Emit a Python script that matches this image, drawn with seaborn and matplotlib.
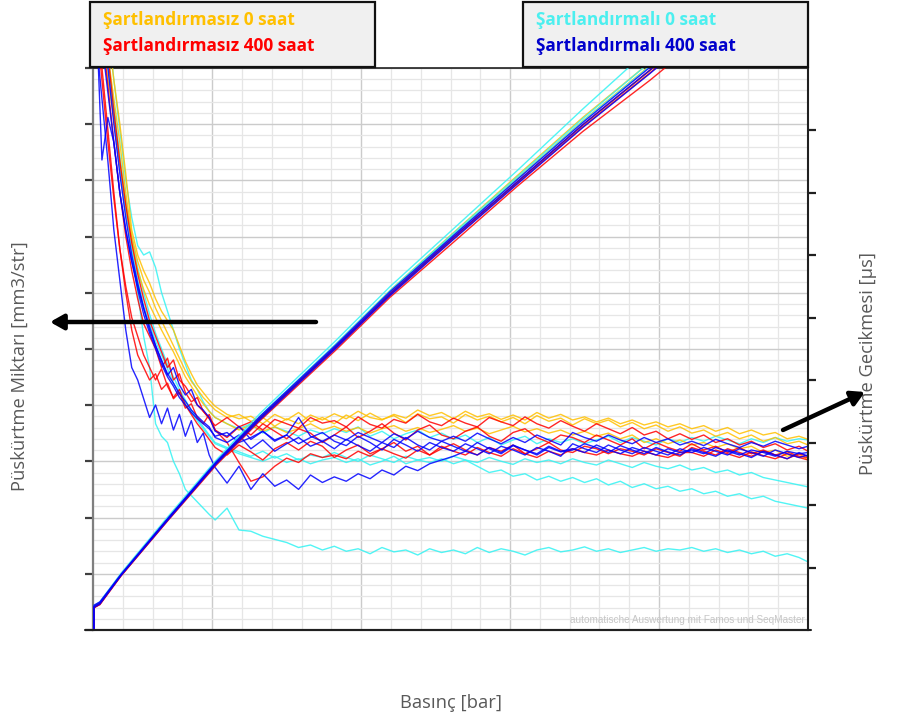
import matplotlib
matplotlib.use("Agg")
import matplotlib.pyplot as plt
import numpy as np
import pandas as pd
import seaborn as sns
from matplotlib.patches import Rectangle, FancyArrowPatch
from matplotlib.lines import Line2D
from matplotlib.ticker import MultipleLocator, FixedLocator

# ---------------- data ----------------
GROUPS = ["Şartlandırmasız 0 saat", "Şartlandırmasız 400 saat",
          "Şartlandırmalı 0 saat", "Şartlandırmalı 400 saat"]
COLORS = ["#FFC000", "#FF0000", "#33F3F3", "#0000FF"]
LEGEND_COLORS = ["#FFC000", "#FF0000", "#4CEFEF", "#0000CC"]

# pressure grid (bar) for the injection-quantity curves
p_rise = [103, 103, 123, 194, 352, 513, 660, 915, 1097, 1308, 1523, 1744, 1969, 2070]
# injection quantity [mm3/str]
q_y1 = [0, 4.0, 4.7, 9.9, 19.9, 29.8, 37.8, 50.6, 60.1, 70.2, 80.3, 90.6, 100.4, 104.9]
q_y2 = [0, 4.3, 4.9, 9.7, 19.6, 29.5, 37.5, 50.2, 59.7, 69.6, 79.6, 89.8, 99.5, 104.0]
q_y3 = [0, 4.1, 4.6, 9.8, 19.8, 29.7, 37.9, 50.8, 60.4, 70.6, 80.8, 91.2, 101.0, 105.6]
q_r1 = [0, 4.0, 4.5, 9.6, 19.5, 29.3, 37.2, 49.8, 59.2, 68.9, 78.9, 88.7, 97.8, 102.2]
q_r2 = [0, 4.1, 4.7, 9.7, 19.7, 29.6, 37.6, 50.2, 59.6, 69.5, 79.4, 89.5, 99.1, 103.6]
q_r3 = [0, 3.9, 4.6, 9.8, 19.8, 29.7, 37.7, 50.4, 59.9, 69.8, 79.7, 89.9, 99.6, 104.1]
q_c1 = [0, 4.3, 5.0, 10.1, 20.2, 30.2, 38.5, 51.5, 61.1, 71.3, 81.7, 92.7, 103.5, 108.5]
q_c2 = [0, 4.0, 4.8, 9.9, 19.9, 29.9, 38.0, 50.9, 60.4, 70.5, 80.6, 91.0, 101.0, 105.6]
q_c3 = [0, 4.2, 4.7, 9.8, 19.8, 29.8, 37.8, 50.6, 60.1, 70.2, 80.2, 90.5, 100.3, 104.8]
q_b1 = [0, 4.2, 4.8, 9.8, 19.8, 29.7, 37.7, 50.4, 59.8, 69.8, 79.7, 89.9, 99.6, 104.1]
q_b2 = [0, 4.4, 5.0, 9.9, 19.9, 29.9, 38.0, 50.7, 60.2, 70.1, 80.1, 90.3, 100.1, 104.6]
q_b3 = [0, 4.0, 4.6, 9.7, 19.6, 29.5, 37.4, 50.1, 59.5, 69.4, 79.3, 89.4, 99.0, 103.5]

# pressure grid (bar) for the injection-delay curves
p_fall = [110, 130, 150, 170, 190, 210, 230, 250, 270, 290,
          310, 330, 350, 370, 390, 410, 430, 450, 470, 490,
          510, 550, 590, 630, 670, 710, 750, 790, 830, 870,
          910, 950, 990, 1030, 1070, 1110, 1150, 1190, 1230, 1270,
          1310, 1350, 1390, 1430, 1470, 1510, 1550, 1590, 1630, 1670,
          1710, 1750, 1790, 1830, 1870, 1910, 1950, 1990, 2030, 2070,
          2110, 2150, 2190, 2230, 2270, 2310, 2350, 2390, 2430, 2470,
          2500]
# injection delay [µs]
d_y1 = [1150, 1050, 960, 880, 810, 730, 640, 600, 575, 555,
        530, 510, 495, 480, 455, 430, 410, 392, 380, 368,
        358, 345, 338, 342, 330, 345, 336, 348, 333, 340,
        330, 344, 335, 347, 337, 343, 332, 346, 338, 341,
        331, 345, 336, 342, 333, 340, 330, 343, 334, 339,
        328, 338, 330, 336, 325, 332, 322, 328, 318, 325,
        315, 320, 310, 316, 306, 312, 302, 308, 298, 302,
        296]
d_y2 = [1100, 1010, 920, 850, 780, 700, 630, 590, 560, 540,
        515, 495, 475, 455, 435, 415, 398, 385, 372, 362,
        352, 340, 345, 334, 340, 326, 338, 330, 344, 336,
        346, 338, 350, 340, 336, 345, 339, 352, 343, 348,
        338, 350, 341, 346, 337, 344, 336, 348, 339, 345,
        336, 341, 333, 339, 330, 336, 328, 333, 325, 330,
        322, 327, 318, 324, 314, 320, 312, 316, 306, 310,
        305]
d_y3 = [1050, 960, 880, 820, 750, 680, 620, 575, 545, 520,
        500, 480, 462, 445, 425, 405, 390, 375, 362, 350,
        340, 330, 320, 328, 318, 325, 316, 322, 330, 320,
        326, 318, 324, 315, 322, 327, 318, 324, 316, 321,
        327, 318, 323, 314, 320, 326, 317, 322, 315, 320,
        312, 318, 310, 315, 306, 312, 300, 306, 298, 304,
        296, 300, 292, 298, 290, 294, 284, 288, 278, 282,
        272]
d_r1 = [1000, 900, 800, 700, 610, 540, 480, 440, 420, 400,
        410, 385, 395, 370, 380, 355, 362, 340, 330, 345,
        320, 300, 268, 238, 245, 262, 275, 268, 282, 276,
        280, 274, 286, 278, 290, 282, 275, 288, 280, 294,
        286, 280, 292, 284, 278, 290, 282, 276, 286, 280,
        290, 284, 280, 288, 282, 278, 286, 280, 276, 284,
        284, 278, 288, 282, 276, 285, 279, 274, 282, 276,
        272]
d_r2 = [1050, 960, 870, 780, 700, 630, 575, 530, 490, 470,
        450, 420, 435, 400, 410, 380, 365, 372, 350, 340,
        320, 308, 325, 312, 330, 318, 306, 322, 315, 300,
        312, 325, 308, 318, 330, 315, 304, 320, 328, 312,
        306, 318, 325, 310, 302, 316, 322, 308, 300, 312,
        308, 300, 312, 304, 296, 306, 290, 300, 292, 286,
        298, 288, 294, 284, 292, 282, 288, 280, 285, 278,
        276]
d_r3 = [1100, 1010, 920, 830, 750, 680, 620, 570, 530, 495,
        470, 445, 420, 432, 400, 390, 375, 360, 350, 338,
        327, 340, 325, 333, 320, 337, 330, 323, 340, 331,
        335, 325, 341, 329, 323, 337, 331, 345, 333, 327,
        339, 331, 325, 340, 333, 327, 341, 330, 323, 335,
        326, 318, 330, 322, 314, 324, 312, 318, 306, 314,
        305, 312, 300, 306, 296, 302, 292, 298, 288, 294,
        286]
d_r4 = [980, 880, 780, 690, 610, 550, 500, 470, 440, 420,
        400, 418, 390, 372, 385, 360, 345, 330, 318, 305,
        292, 280, 296, 285, 272, 290, 300, 288, 302, 294,
        276, 288, 296, 282, 290, 300, 286, 294, 280, 290,
        298, 288, 280, 292, 286, 296, 282, 290, 300, 288,
        284, 294, 290, 282, 290, 286, 280, 290, 284, 278,
        292, 286, 280, 290, 284, 278, 286, 280, 274, 282,
        278]
d_c1 = [1150, 1060, 970, 880, 800, 720, 660, 615, 600, 605,
        580, 540, 510, 480, 450, 425, 400, 385, 365, 350,
        340, 330, 322, 330, 315, 325, 318, 310, 320, 314,
        322, 316, 325, 310, 318, 306, 314, 320, 308, 315,
        305, 312, 300, 308, 296, 304, 310, 298, 306, 300,
        306, 298, 304, 310, 300, 308, 302, 296, 306, 300,
        308, 302, 310, 304, 298, 306, 300, 308, 302, 306,
        304]
d_c2 = [1080, 1000, 920, 840, 760, 690, 630, 580, 540, 505,
        475, 450, 425, 405, 385, 368, 352, 338, 325, 312,
        300, 292, 285, 278, 286, 275, 282, 272, 280, 276,
        284, 276, 270, 280, 274, 268, 278, 272, 276, 270,
        278, 272, 268, 276, 270, 265, 274, 268, 272, 266,
        274, 268, 264, 272, 266, 260, 268, 262, 258, 264,
        256, 260, 252, 256, 248, 252, 244, 240, 236, 232,
        229]
d_c3 = [1060, 980, 900, 820, 740, 670, 610, 560, 520, 490,
        462, 440, 418, 395, 380, 362, 348, 335, 322, 310,
        298, 290, 282, 276, 270, 278, 268, 274, 266, 272,
        276, 268, 274, 264, 270, 278, 266, 272, 268, 274,
        266, 272, 262, 252, 256, 246, 250, 240, 246, 238,
        244, 236, 242, 232, 238, 228, 234, 226, 230, 222,
        226, 218, 222, 214, 218, 210, 214, 206, 202, 198,
        195]
d_c4 = [1100, 1010, 920, 830, 750, 680, 610, 540, 470, 420,
        330, 310, 300, 270, 250, 225, 215, 205, 195, 185,
        176, 195, 160, 158, 150, 145, 140, 132, 136, 128,
        134, 126, 130, 122, 132, 125, 128, 120, 130, 124,
        128, 122, 132, 124, 130, 126, 120, 128, 132, 125,
        128, 133, 126, 130, 124, 128, 132, 126, 130, 128,
        132, 126, 130, 124, 128, 122, 126, 118, 122, 116,
        109]
d_b1 = [1000, 752, 820, 780, 700, 640, 590, 550, 515, 480,
        455, 430, 408, 420, 392, 376, 385, 360, 352, 340,
        318, 310, 326, 305, 318, 302, 312, 298, 308, 316,
        302, 295, 310, 300, 288, 305, 296, 286, 300, 292,
        286, 298, 290, 282, 294, 288, 280, 292, 286, 278,
        298, 290, 284, 296, 288, 282, 292, 286, 280, 290,
        284, 292, 286, 280, 290, 284, 278, 288, 282, 276,
        280]
d_b2 = [950, 850, 750, 640, 560, 480, 420, 400, 370, 340,
        360, 330, 355, 320, 345, 310, 335, 300, 315, 280,
        260, 235, 262, 225, 250, 230, 240, 225, 248, 236,
        245, 238, 250, 242, 256, 248, 262, 255, 266, 272,
        278, 286, 280, 292, 284, 296, 288, 282, 294, 286,
        290, 284, 296, 288, 282, 292, 286, 280, 290, 284,
        288, 282, 292, 286, 280, 288, 284, 278, 286, 282,
        284]
d_b3 = [1080, 990, 900, 810, 730, 660, 600, 555, 515, 485,
        455, 432, 410, 395, 378, 366, 352, 342, 333, 325,
        308, 300, 312, 290, 304, 286, 298, 308, 294, 302,
        290, 305, 295, 286, 300, 292, 308, 296, 288, 302,
        294, 286, 300, 290, 282, 295, 288, 280, 292, 285,
        288, 298, 292, 284, 295, 288, 282, 292, 285, 280,
        290, 284, 278, 288, 282, 276, 286, 280, 274, 284,
        278]
d_b4 = [1020, 940, 860, 780, 700, 640, 590, 545, 505, 475,
        450, 425, 405, 390, 372, 360, 348, 338, 330, 322,
        310, 316, 300, 308, 318, 304, 312, 340, 310, 302,
        312, 304, 316, 308, 300, 314, 306, 318, 308, 302,
        310, 302, 315, 306, 298, 308, 300, 312, 304, 296,
        316, 308, 302, 312, 304, 298, 308, 300, 306, 296,
        302, 295, 305, 298, 292, 300, 294, 302, 296, 290,
        294]

# ---------------- tables ----------------
rise_series = [(GROUPS[0], "y1", q_y1), (GROUPS[0], "y2", q_y2), (GROUPS[0], "y3", q_y3),
               (GROUPS[2], "c1", q_c1), (GROUPS[2], "c2", q_c2), (GROUPS[2], "c3", q_c3),
               (GROUPS[1], "r1", q_r1), (GROUPS[1], "r2", q_r2), (GROUPS[1], "r3", q_r3),
               (GROUPS[3], "b1", q_b1), (GROUPS[3], "b2", q_b2), (GROUPS[3], "b3", q_b3)]
fall_series = [(GROUPS[2], "c1", d_c1), (GROUPS[2], "c2", d_c2), (GROUPS[2], "c3", d_c3),
               (GROUPS[2], "c4", d_c4),
               (GROUPS[0], "y1", d_y1), (GROUPS[0], "y2", d_y2), (GROUPS[0], "y3", d_y3),
               (GROUPS[1], "r1", d_r1), (GROUPS[1], "r2", d_r2), (GROUPS[1], "r3", d_r3),
               (GROUPS[1], "r4", d_r4),
               (GROUPS[3], "b1", d_b1), (GROUPS[3], "b2", d_b2), (GROUPS[3], "b3", d_b3),
               (GROUPS[3], "b4", d_b4)]

rise_df = pd.concat([pd.DataFrame({"Basınç": p_rise, "Miktar": v, "Grup": g, "Seri": s})
                     for g, s, v in rise_series], ignore_index=True)
fall_df = pd.concat([pd.DataFrame({"Basınç": p_fall, "Gecikme": v, "Grup": g, "Seri": s})
                     for g, s, v in fall_series], ignore_index=True)

palette = dict(zip(GROUPS, COLORS))

# ---------------- figure ----------------
sns.set_style("white")
plt.rcParams["font.family"] = ["Open Sans", "DejaVu Sans"]

fig = plt.figure(figsize=(9, 7.22), dpi=100)
pos = [93 / 900, 1 - 630 / 722, (808 - 93) / 900, (630 - 68) / 722]

axg = fig.add_axes(pos)          # left axis + grid
axg.set_zorder(0)
ax_d = axg.twinx()               # right axis: delay
ax_d.set_zorder(1)
ax_q = axg.twinx()               # quantity curves on top
ax_q.set_zorder(2)
ax_q.patch.set_visible(False)
ax_d.patch.set_visible(False)

# delay curves
sns.lineplot(data=fall_df, x="Basınç", y="Gecikme", hue="Grup", units="Seri",
             estimator=None, sort=False, palette=palette,
             hue_order=[GROUPS[2], GROUPS[0], GROUPS[1], GROUPS[3]],
             lw=1.0, alpha=0.85, legend=False, ax=ax_d)
# quantity curves
sns.lineplot(data=rise_df, x="Basınç", y="Miktar", hue="Grup", units="Seri",
             estimator=None, sort=False, palette=palette,
             hue_order=[GROUPS[0], GROUPS[2], GROUPS[1], GROUPS[3]],
             lw=1.0, alpha=0.85, legend=False, ax=ax_q)

for a in (axg, ax_d, ax_q):
    a.set_xlim(100, 2500)
    a.set_xlabel("")
    a.set_ylabel("")
axg.set_ylim(0, 100)
ax_q.set_ylim(0, 100)
ax_d.set_ylim(0, 899.2)

# grid
axg.xaxis.set_major_locator(FixedLocator([500, 1000, 1500, 2000]))
axg.xaxis.set_minor_locator(MultipleLocator(100))
axg.yaxis.set_major_locator(MultipleLocator(10))
axg.yaxis.set_minor_locator(MultipleLocator(2))
axg.grid(which="minor", color="#e6e6e6", lw=0.9)
axg.grid(which="major", color="#cbcbcb", lw=1.0)
axg.tick_params(which="major", direction="out", length=6, width=1.6,
                colors="#404040", labelleft=False, labelbottom=False)
axg.tick_params(which="minor", length=0)

ax_d.yaxis.set_major_locator(FixedLocator(list(range(100, 900, 100))))
ax_d.tick_params(axis="y", direction="out", length=6, width=1.6,
                 colors="#202020", labelright=False)
for t, val in zip(ax_d.yaxis.get_major_ticks(), range(100, 900, 100)):
    t.tick2line.set_color("#8c8c8c" if val % 200 == 0 else "#202020")
ax_q.set_yticks([])
ax_q.tick_params(axis="both", length=0, labelright=False, labelbottom=False)
ax_d.tick_params(axis="x", length=0, labelbottom=False)

for name, sp in axg.spines.items():
    sp.set_visible(name in ("left", "bottom", "top"))
axg.spines["left"].set_color("#7f7f7f")
axg.spines["left"].set_linewidth(1.6)
axg.spines["bottom"].set_color("#202020")
axg.spines["bottom"].set_linewidth(1.5)
axg.spines["top"].set_color("#202020")
axg.spines["top"].set_linewidth(1.2)
for name, sp in ax_d.spines.items():
    sp.set_visible(name == "right")
ax_d.spines["right"].set_color("#202020")
ax_d.spines["right"].set_linewidth(1.5)
for sp in ax_q.spines.values():
    sp.set_visible(False)

# bottom axis line slightly extended
fig.add_artist(Line2D([85 / 900, 811 / 900], [1 - 630 / 722] * 2, color="#202020",
                      lw=1.5, transform=fig.transFigure, zorder=5))

# axis labels
lab_kw = dict(color="#595959", fontsize=13.2, ha="center", va="center")
fig.text(20 / 900, 1 - 366 / 722, "Püskürtme Miktarı [mm3/str]", rotation=90, **lab_kw)
fig.text(868 / 900, 1 - 364 / 722, "Püskürtme Gecikmesi [µs]", rotation=90, **lab_kw)
fig.text(451 / 900, 1 - 703 / 722, "Basınç [bar]", **lab_kw)

# watermark
fig.text(805 / 900, 1 - 620 / 722, "automatische Auswertung mit Famos und SeqMaster",
         ha="right", va="center", color="#c6c6c6", fontsize=7.2,
         family=["Liberation Sans", "DejaVu Sans"], zorder=6)

# legend boxes
boxes = [(90, [0, 1]), (523, [2, 3])]
for x0, idx in boxes:
    fig.add_artist(Rectangle((x0 / 900, 1 - 67 / 722), 285 / 900, 65 / 722,
                             transform=fig.transFigure, facecolor="#f0f0f0",
                             edgecolor="#111111", lw=1.6, zorder=10))
    for k, i in enumerate(idx):
        fig.text((x0 + 13) / 900, 1 - (20 + 26 * k) / 722, GROUPS[i],
                 color=LEGEND_COLORS[i], fontsize=12.4, fontweight="bold",
                 ha="left", va="center", zorder=11)

# arrows
fig.add_artist(FancyArrowPatch((316 / 900, 1 - 322 / 722), (50 / 900, 1 - 322 / 722),
                               transform=fig.transFigure, color="black", lw=3.2,
                               arrowstyle="-|>,head_length=8,head_width=4.5",
                               shrinkA=0, shrinkB=0, zorder=12))
fig.add_artist(FancyArrowPatch((783 / 900, 1 - 430 / 722), (865 / 900, 1 - 392 / 722),
                               transform=fig.transFigure, color="black", lw=3.2,
                               arrowstyle="-|>,head_length=8,head_width=4.5",
                               shrinkA=0, shrinkB=0, zorder=12))

fig.savefig("out.png", dpi=100, facecolor="white")
